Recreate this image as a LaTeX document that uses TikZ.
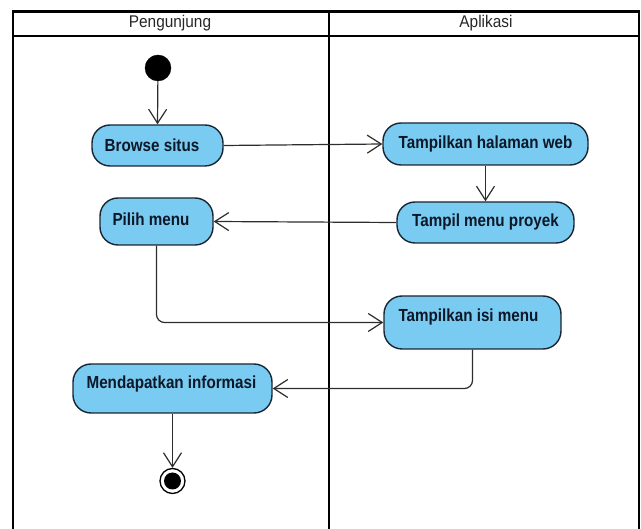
\documentclass[tikz,border=0pt]{standalone}
\usepackage{fontspec}
\usepackage{graphicx}
\setmainfont{Liberation Sans}
\usetikzlibrary{arrows.meta}
\definecolor{actfill}{RGB}{122,203,241}
\definecolor{actdraw}{RGB}{24,38,52}
\definecolor{acttxt}{RGB}{12,24,40}
\definecolor{linecol}{RGB}{45,45,45}
\tikzset{
  frame/.style={line width=2.3pt, draw=black},
  act/.style={draw=actdraw, fill=actfill, line width=1.4pt, rounded corners=18pt, inner sep=0pt},
  acttext/.style={text=acttxt, inner sep=0pt, font=\fontsize{15.2}{16}\selectfont\bfseries},
  lane/.style={inner sep=0pt, text=black!85, font=\fontsize{15.4}{16}\selectfont},
  flow/.style={draw=linecol, line width=1.2pt, -{Straight Barb[length=14pt,width=18pt,line width=1.2pt]}},
}
\newcommand{\vs}[1]{\scalebox{1}[1.15]{#1}}
\begin{document}
\begin{tikzpicture}[x=1pt,y=-1pt]
\useasboundingbox (0,0) rectangle (641,529);
% swimlane frame
\draw[frame] (13,545) -- (13,11.5) -- (639,11.5) -- (639,545);
\draw[frame] (13,36) -- (639,36);
\draw[frame] (329,11.5) -- (329,545);
\node[lane] (l1) at (170,23) {\scalebox{1}[1.1]{Pengunjung}};
\node[lane] (l2) at (486,23) {\scalebox{1}[1.1]{Aplikasi}};
% start
\node[circle, fill=black, draw=black, minimum size=26pt, inner sep=0pt] (start) at (158,68) {};
% activities
\node[act, minimum width=131pt, minimum height=41pt] (browse) at (157.5,145.5) {};
\node[acttext] (browseT) at (152,145.5) {\vs{Browse situs}};
\node[act, minimum width=205pt, minimum height=42pt] (halaman) at (485.5,144) {};
\node[acttext] (halamanT) at (485.5,144) {\vs{Tampilkan halaman web}};
\node[act, minimum width=177pt, minimum height=41pt] (proyek) at (485.5,222.5) {};
\node[acttext] (proyekT) at (485.5,222) {\vs{Tampil menu proyek}};
\node[act, minimum width=113pt, minimum height=47pt] (pilih) at (156.5,221.5) {};
\node[acttext] (pilihT) at (151,219) {\vs{Pilih menu}};
\node[act, minimum width=177pt, minimum height=53pt] (isi) at (472.5,322.5) {};
\node[acttext] (isiT) at (468.5,317) {\vs{Tampilkan isi menu}};
\node[act, minimum width=199pt, minimum height=49pt] (mend) at (172.5,388.5) {};
\node[acttext] (mendT) at (171.5,384) {\vs{Mendapatkan informasi}};
% end
\node[circle, fill=white, draw=black, line width=1.3pt, minimum size=25pt, inner sep=0pt] (end) at (172.5,481) {};
\node[circle, fill=black, minimum size=17pt, inner sep=0pt] (endin) at (end.center) {};
% flows
\draw[flow] (start) -- (browse.north);
\draw[flow] (browse.east) -- (halaman.west);
\draw[flow] (halaman.south) -- (proyek.north);
\draw[flow] (proyek.west) -- (pilih.east);
\draw[flow, rounded corners=8pt] (pilih.south) |- (isi.west);
\draw[flow, rounded corners=8pt] (isi.south) |- (mend.east);
\draw[flow] (mend.south) -- (end.north);
\end{tikzpicture}
\end{document}
